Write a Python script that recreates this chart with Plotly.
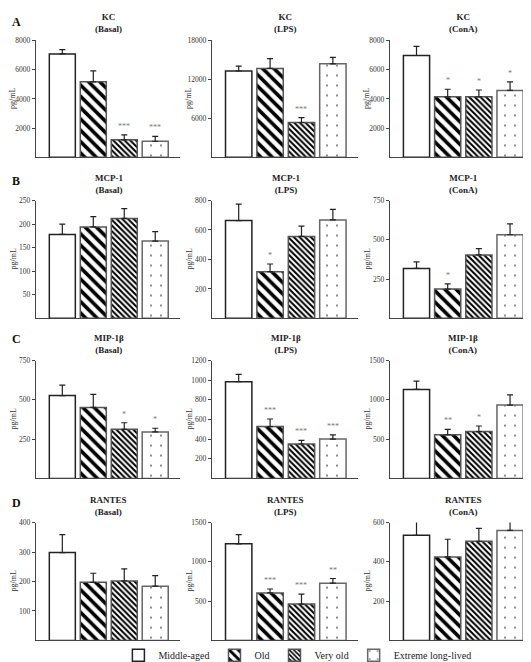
import plotly.graph_objects as go

FONT = "Liberation Serif, serif"
W, H = 531, 662

groups = ["Middle-aged", "Old", "Very old", "Extreme long-lived"]

# ---- data (pg/mL), error = SEM (upper only), significance labels ----
kc_basal = [7080, 5170, 1200, 1100]
kc_basal_err = [300, 750, 330, 330]
kc_basal_sig = ["", "", "***", "***"]

kc_lps = [13300, 13700, 5360, 14400]
kc_lps_err = [750, 1500, 760, 1000]
kc_lps_sig = ["", "", "***", ""]

kc_cona = [6970, 4140, 4140, 4580]
kc_cona_err = [630, 520, 470, 590]
kc_cona_sig = ["", "*", "*", "*"]

mcp_basal = [178, 194, 212, 164]
mcp_basal_err = [22, 22, 21, 20]
mcp_basal_sig = ["", "", "", ""]

mcp_lps = [664, 317, 556, 668]
mcp_lps_err = [111, 52, 70, 72]
mcp_lps_sig = ["", "*", "", ""]

mcp_cona = [318, 186, 404, 532]
mcp_cona_err = [42, 34, 40, 69]
mcp_cona_sig = ["", "*", "", ""]

mip_basal = [527, 452, 312, 296]
mip_basal_err = [67, 83, 42, 23]
mip_basal_sig = ["", "", "*", "*"]

mip_lps = [985, 528, 350, 400]
mip_lps_err = [74, 77, 37, 44]
mip_lps_sig = ["", "***", "***", "***"]

mip_cona = [1133, 554, 596, 933]
mip_cona_err = [105, 71, 71, 130]
mip_cona_sig = ["", "**", "*", ""]

rantes_basal = [298, 197, 202, 184]
rantes_basal_err = [61, 31, 41, 36]
rantes_basal_sig = ["", "", "", ""]

rantes_lps = [1229, 604, 462, 729]
rantes_lps_err = [117, 50, 126, 59]
rantes_lps_sig = ["", "***", "***", "**"]

rantes_cona = [535, 425, 505, 560]
rantes_cona_err = [75, 90, 65, 75]
rantes_cona_sig = ["", "", "", ""]

# titles and axis settings
row_names = ["KC", "MCP-1", "MIP-1β", "RANTES"]
col_names = ["(Basal)", "(LPS)", "(ConA)"]
panel_letters = ["A", "B", "C", "D"]

values = [[kc_basal, kc_lps, kc_cona],
          [mcp_basal, mcp_lps, mcp_cona],
          [mip_basal, mip_lps, mip_cona],
          [rantes_basal, rantes_lps, rantes_cona]]
errors = [[kc_basal_err, kc_lps_err, kc_cona_err],
          [mcp_basal_err, mcp_lps_err, mcp_cona_err],
          [mip_basal_err, mip_lps_err, mip_cona_err],
          [rantes_basal_err, rantes_lps_err, rantes_cona_err]]
sigs = [[kc_basal_sig, kc_lps_sig, kc_cona_sig],
        [mcp_basal_sig, mcp_lps_sig, mcp_cona_sig],
        [mip_basal_sig, mip_lps_sig, mip_cona_sig],
        [rantes_basal_sig, rantes_lps_sig, rantes_cona_sig]]
y_ticks = [[[2000, 4000, 6000, 8000], [6000, 12000, 18000], [2000, 4000, 6000, 8000]],
           [[50, 100, 150, 200, 250], [200, 400, 600, 800], [250, 500, 750]],
           [[250, 500, 750], [200, 400, 600, 800, 1000, 1200], [500, 1000, 1500]],
           [[100, 200, 300, 400], [500, 1000, 1500], [200, 400, 600]]]

# layout geometry (pixels)
col_px = [(28, 172), (204, 350), (382, 527)]
row_px = [(29, 148), (192, 312), (355, 475), (520, 640)]
letter_y = [10, 172, 333, 500]

# bar styles
fill_pat = [
    dict(shape="", fillmode="overlay"),
    dict(shape="\\", size=8, solidity=0.45, fgcolor="black", bgcolor="white",
         fgopacity=1, fillmode="overlay"),
    dict(shape="\\", size=4, solidity=0.5, fgcolor="black", bgcolor="white",
         fgopacity=1, fillmode="overlay"),
    dict(shape=".", size=10, solidity=0.02, fgcolor="black", bgcolor="white",
         fgopacity=1, fillmode="overlay"),
]
line_col = ["#222222", "#555555", "#555555", "#666666"]

fig = go.Figure()
layout = dict(
    width=W, height=H, margin=dict(l=0, r=0, t=0, b=0),
    plot_bgcolor="white", paper_bgcolor="white",
    barmode="overlay", font=dict(family=FONT, size=8, color="#222"),
    showlegend=True,
    legend=dict(orientation="h", x=0.545, xanchor="center", y=(H - 655) / H, yanchor="middle",
                font=dict(family=FONT, size=10, color="#222"), itemwidth=30,
                bgcolor="rgba(0,0,0,0)", traceorder="normal"),
)
annotations = []

xs = [0, 1, 2, 3]
for r in range(4):
    for c in range(3):
        i = r * 3 + c + 1
        xa = "x" if i == 1 else f"x{i}"
        ya = "y" if i == 1 else f"y{i}"
        vals = values[r][c]
        errs = errors[r][c]
        for g in range(4):
            fig.add_trace(go.Bar(
                x=[xs[g]], y=[vals[g]], width=0.84, name=groups[g],
                legendgroup=groups[g], showlegend=(i == 1), cliponaxis=False,
                marker=dict(color="white", pattern=fill_pat[g],
                            line=dict(color=line_col[g], width=1.5)),
                error_y=dict(type="data", symmetric=False, array=[errs[g]], arrayminus=[0],
                             color="#222", thickness=1.2, width=3),
                xaxis=xa, yaxis=ya, hoverinfo="skip",
            ))
            if sigs[r][c][g]:
                annotations.append(dict(
                    x=xs[g], y=vals[g] + errs[g], xref=xa, yref=ya,
                    text=sigs[r][c][g], showarrow=False, yanchor="bottom", yshift=2,
                    font=dict(family=FONT, size=8, color="#777")))
        x0, x1 = col_px[c]
        y0, y1 = row_px[r]
        ticks = y_ticks[r][c]
        layout["xaxis" if i == 1 else f"xaxis{i}"] = dict(
            domain=[x0 / W, x1 / W], range=[-0.85, 3.8], showticklabels=False,
            ticks="", showgrid=False, zeroline=False, showline=True,
            linecolor="#444", linewidth=1.3, anchor=ya, fixedrange=True)
        layout["yaxis" if i == 1 else f"yaxis{i}"] = dict(
            domain=[1 - y1 / H, 1 - y0 / H], range=[0, ticks[-1]], tickvals=ticks,
            ticktext=[str(t) for t in ticks],
            ticks="outside", ticklen=3, tickwidth=1, tickcolor="#444",
            tickfont=dict(family=FONT, size=7.5, color="#333"),
            showgrid=False, zeroline=False, showline=True, linecolor="#444",
            linewidth=1.3, anchor=xa, fixedrange=True)
        # panel title
        annotations.append(dict(
            x=1.5, xref=xa, y=1, yref=f"{ya} domain", yanchor="bottom", yshift=4,
            text=f"<b>{row_names[r]}<br>{col_names[c]}</b>", showarrow=False,
            font=dict(family=FONT, size=9, color="#222")))
        # y axis title
        annotations.append(dict(
            x=0, xref=f"{xa} domain", xshift=-23, y=0.5, yref=f"{ya} domain",
            text="pg/mL", textangle=-90, showarrow=False, xanchor="center", yanchor="middle",
            font=dict(family=FONT, size=8, color="#333")))
    annotations.append(dict(
        x=2 / W, y=1 - letter_y[r] / H, xref="paper", yref="paper",
        text=f"<b>{panel_letters[r]}</b>", showarrow=False, xanchor="left", yanchor="middle",
        font=dict(family=FONT, size=12, color="#111")))

layout["annotations"] = annotations
fig.update_layout(**layout)
fig.write_html("out.html")
